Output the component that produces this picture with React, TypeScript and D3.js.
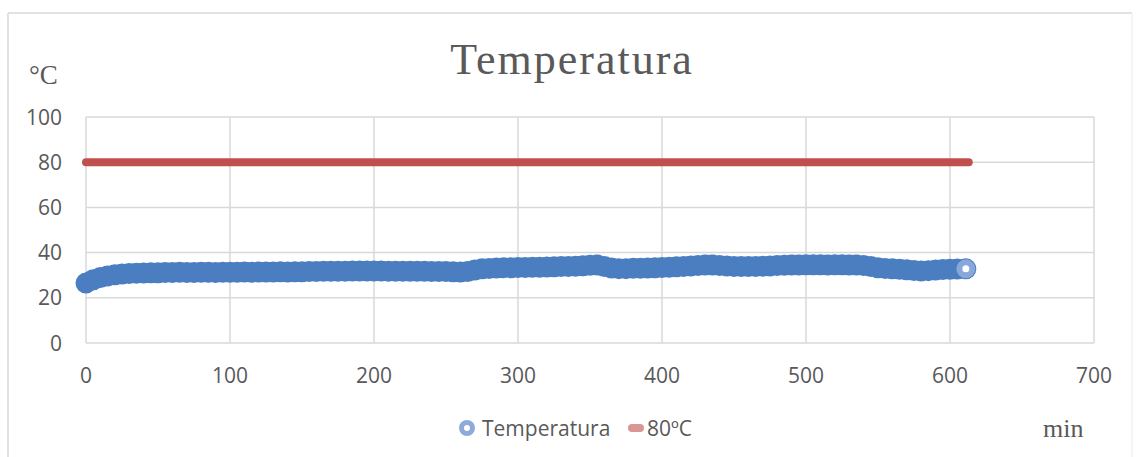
import React from "react";
import * as d3 from "d3";

const times = [
  0, 5, 10, 15, 20, 25, 30, 35, 40, 45,
  50, 55, 60, 65, 70, 75, 80, 85, 90, 95,
  100, 105, 110, 115, 120, 125, 130, 135, 140, 145,
  150, 155, 160, 165, 170, 175, 180, 185, 190, 195,
  200, 205, 210, 215, 220, 225, 230, 235, 240, 245,
  250, 255, 260, 265, 270, 275, 280, 285, 290, 295,
  300, 305, 310, 315, 320, 325, 330, 335, 340, 345,
  350, 355, 360, 365, 370, 375, 380, 385, 390, 395,
  400, 405, 410, 415, 420, 425, 430, 435, 440, 445,
  450, 455, 460, 465, 470, 475, 480, 485, 490, 495,
  500, 505, 510, 515, 520, 525, 530, 535, 540, 545,
  550, 555, 560, 565, 570, 575, 580, 585, 590, 595,
  600, 605, 611,
];

const temperatura = [
  26.5, 28.0, 29.0, 29.7, 30.2, 30.5, 30.7, 30.9, 31.0, 31.1,
  31.1, 31.2, 31.2, 31.3, 31.2, 31.2, 31.3, 31.3, 31.2, 31.3,
  31.3, 31.3, 31.4, 31.3, 31.4, 31.4, 31.4, 31.5, 31.4, 31.5,
  31.5, 31.6, 31.6, 31.7, 31.7, 31.8, 31.8, 31.9, 31.9, 31.9,
  31.9, 31.9, 31.8, 31.8, 31.8, 31.7, 31.7, 31.7, 31.6, 31.6,
  31.6, 31.5, 31.4, 31.6, 32.3, 32.8, 33.0, 33.2, 33.3, 33.3,
  33.4, 33.4, 33.5, 33.5, 33.6, 33.7, 33.8, 33.9, 34.0, 34.2,
  34.4, 34.5, 33.8, 33.2, 32.9, 32.9, 33.1, 33.1, 33.2, 33.3,
  33.4, 33.5, 33.7, 33.9, 34.1, 34.3, 34.5, 34.5, 34.3, 34.1,
  33.9, 33.8, 33.8, 33.9, 34.0, 34.1, 34.3, 34.4, 34.5, 34.5,
  34.6, 34.6, 34.6, 34.5, 34.6, 34.6, 34.5, 34.5, 34.3, 33.8,
  33.3, 33.0, 32.8, 32.6, 32.4, 32.1, 31.9, 32.0, 32.3, 32.5,
  32.6, 32.7, 32.8,
];

const limitTimes = [0, 613];
const limitValues = [80, 80];

const xTicks = [0, 100, 200, 300, 400, 500, 600, 700];
const yTicks = [0, 20, 40, 60, 80, 100];

const title = "Temperatura";
const yUnit = "°C";
const xUnit = "min";
const seriesNames = ["Temperatura", "80ºC"];

const W = 1141;
const H = 457;
const plot = { left: 86, right: 1094, top: 117, bottom: 343 };
const gridColor = "#d9d9d9";
const textColor = "#595959";
const blue = "#4a7ec1";
const red = "#c0504d";
const sans = "'Open Sans', sans-serif";
const serif = "'Liberation Serif', serif";

export default function App() {
  const x = d3.scaleLinear().domain([0, 700]).range([plot.left, plot.right]);
  const y = d3.scaleLinear().domain([0, 100]).range([plot.bottom, plot.top]);

  const pts = times.map((t, i) => [t, temperatura[i]] as [number, number]);
  const lim = limitTimes.map((t, i) => [t, limitValues[i]] as [number, number]);
  const line = d3
    .line<[number, number]>()
    .x((d) => x(d[0]))
    .y((d) => y(d[1]));

  const last = pts[pts.length - 1];

  return (
    <svg
      width={W}
      height={H}
      style={{ position: "absolute", left: 0, top: 0, display: "block", background: "#fff" }}
    >
      {/* chart frame */}
      <line x1={8} y1={13} x2={1132} y2={13} stroke={gridColor} strokeWidth={1.5} />
      <line x1={8} y1={13} x2={8} y2={H} stroke={gridColor} strokeWidth={1.5} />
      <line x1={1132} y1={13} x2={1132} y2={H} stroke="#ececec" strokeWidth={1} />

      {/* title */}
      <text
        x={572}
        y={74}
        textAnchor="middle"
        fontFamily={serif}
        fontSize={44}
        letterSpacing={2}
        fill={textColor}
      >
        {title}
      </text>
      <text x={29} y={84} fontFamily={serif} fontSize={27} fill={textColor}>
        {yUnit}
      </text>

      {/* grid */}
      {yTicks.map((v) => (
        <line
          key={"gy" + v}
          x1={plot.left}
          x2={plot.right}
          y1={y(v)}
          y2={y(v)}
          stroke={gridColor}
          strokeWidth={1.5}
        />
      ))}
      {xTicks.map((v) => (
        <line
          key={"gx" + v}
          x1={x(v)}
          x2={x(v)}
          y1={plot.top}
          y2={plot.bottom}
          stroke={gridColor}
          strokeWidth={1.5}
        />
      ))}

      {/* tick labels */}
      {yTicks.map((v) => (
        <text
          key={"ty" + v}
          x={62}
          y={y(v)}
          dy="0.36em"
          textAnchor="end"
          fontFamily={sans}
          fontSize={21}
          fill={textColor}
        >
          {v}
        </text>
      ))}
      {xTicks.map((v) => (
        <text
          key={"tx" + v}
          x={x(v)}
          y={383}
          textAnchor="middle"
          fontFamily={sans}
          fontSize={21}
          fill={textColor}
        >
          {v}
        </text>
      ))}

      {/* 80ºC line */}
      <path
        d={line(lim) || ""}
        fill="none"
        stroke={red}
        strokeWidth={8}
        strokeLinecap="round"
      />

      {/* temperature series */}
      <path d={line(pts) || ""} fill="none" stroke={blue} strokeWidth={4} />
      {pts.map((d, i) => (
        <circle key={"p" + i} cx={x(d[0])} cy={y(d[1])} r={10.5} fill={blue} />
      ))}
      <circle cx={x(last[0])} cy={y(last[1])} r={9.5} fill="#88a7da" />
      <circle cx={x(last[0])} cy={y(last[1])} r={3.5} fill="#fff" />

      {/* legend */}
      <circle cx={467} cy={428} r={8} fill="#8eaadb" />
      <circle cx={467} cy={428} r={3} fill="#fff" />
      <text x={482} y={436} fontFamily={sans} fontSize={21} fill={textColor}>
        {seriesNames[0]}
      </text>
      <rect x={628} y={424} width={16} height={8} rx={4} fill="#d99694" />
      <text x={647} y={436} fontFamily={sans} fontSize={21} fill={textColor}>
        {seriesNames[1]}
      </text>

      <text x={1043} y={437} fontFamily={serif} fontSize={26} fill={textColor}>
        {xUnit}
      </text>
    </svg>
  );
}
